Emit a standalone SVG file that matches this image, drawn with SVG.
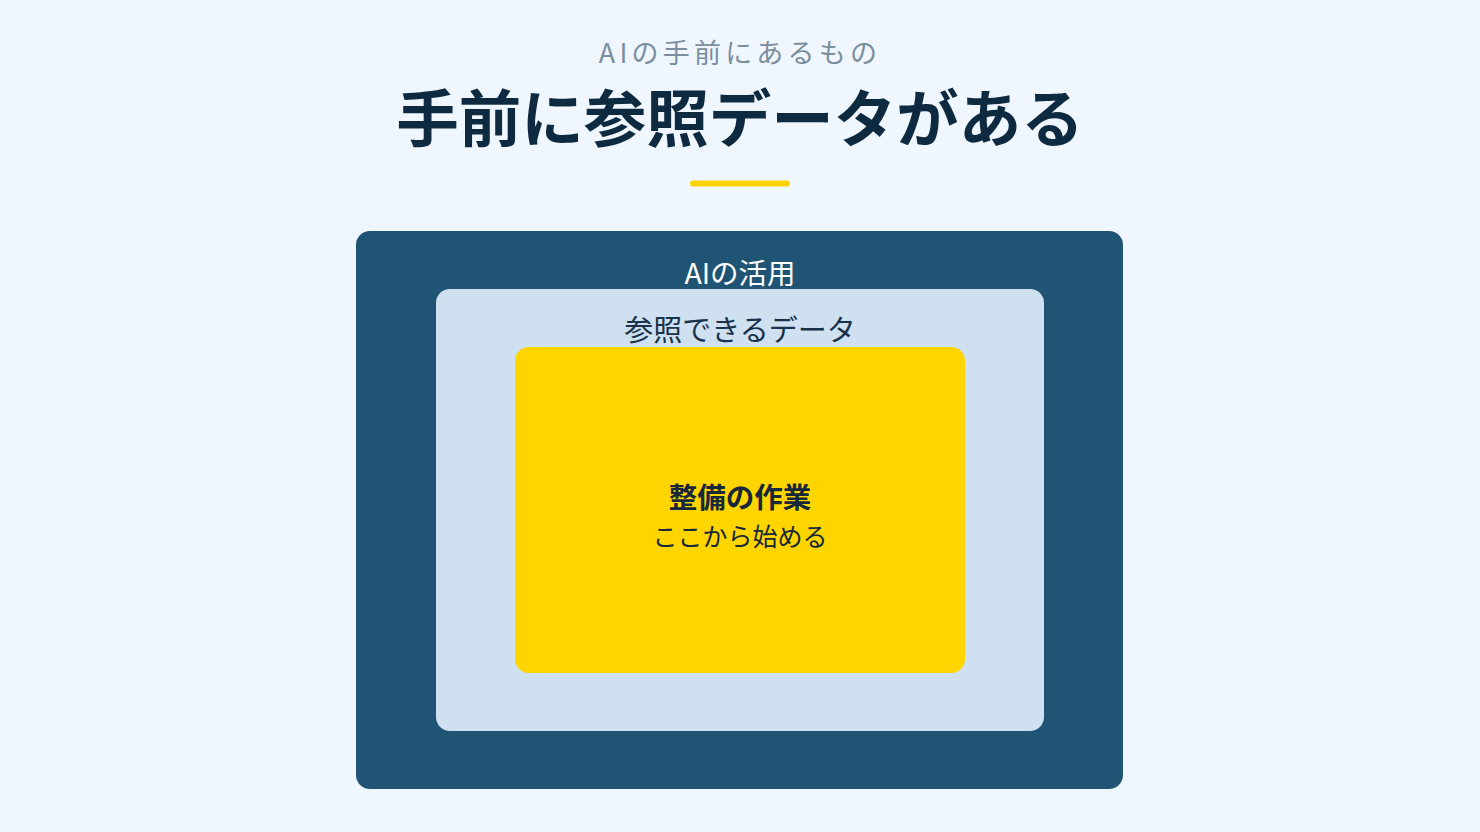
<svg xmlns="http://www.w3.org/2000/svg" width="1480" height="832" viewBox="0 0 1480 832">
<style>
.t{font-family:"Noto Sans CJK JP","Noto Sans",sans-serif;text-anchor:middle}
</style>
<rect width="1480" height="832" fill="#eff6fd"/>
<g id="header">
<text class="t" x="740" y="63" font-size="27" fill="#7b8e9e" letter-spacing="4.2">AIの手前にあるもの</text>
<text class="t" x="740" y="142" font-size="62.5" font-weight="700" fill="#0e2a40">手前に参照データがある</text>
<rect x="690" y="180.5" width="100" height="6" rx="3" fill="#ffd200"/>
</g>
<g id="outer">
<rect x="356" y="231" width="767" height="558" rx="14" fill="#1f5475"/>
<text class="t" x="740" y="284" font-size="28.5" fill="#ffffff">AIの活用</text>
</g>
<g id="middle">
<rect x="436" y="289" width="608" height="442" rx="14" fill="#cfe0f0"/>
<text class="t" x="740" y="341" font-size="29" fill="#17324a">参照できるデータ</text>
</g>
<g id="inner">
<rect x="515" y="347" width="450" height="326" rx="14" fill="#ffd500"/>
<text class="t" x="740" y="508" font-size="28.5" font-weight="700" fill="#17283a">整備の作業</text>
<text class="t" x="740" y="546" font-size="25" fill="#17283a">ここから始める</text>
</g>
<g id="connectors"/>
</svg>
